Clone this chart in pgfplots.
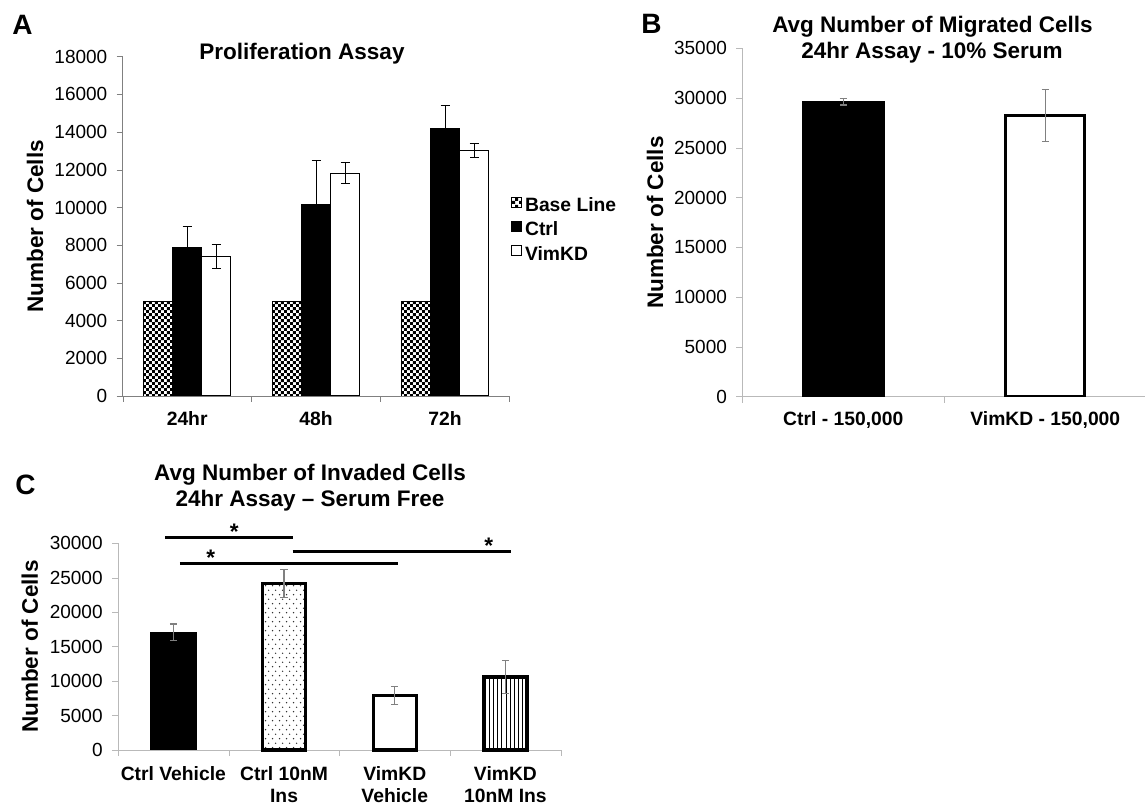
\documentclass[border=0pt]{standalone}
\usepackage{pgfplots}
\pgfplotsset{compat=1.18}
\usepackage{fontspec}
\setmainfont{Liberation Sans}
\usetikzlibrary{patterns}

\definecolor{axA}{RGB}{128,128,128}
\definecolor{axB}{RGB}{185,185,185}
\definecolor{errg}{RGB}{128,128,128}

\pgfdeclarepatternformonly{mychecker}{\pgfqpoint{0pt}{0pt}}{\pgfqpoint{3.2pt}{3.2pt}}{\pgfqpoint{3.2pt}{3.2pt}}{%
  \pgfpathrectangle{\pgfqpoint{0pt}{0pt}}{\pgfqpoint{1.6pt}{1.6pt}}%
  \pgfpathrectangle{\pgfqpoint{1.6pt}{1.6pt}}{\pgfqpoint{1.6pt}{1.6pt}}%
  \pgfusepath{fill}}
\pgfdeclarepatternformonly{mydots}{\pgfqpoint{0pt}{0pt}}{\pgfqpoint{3.3pt}{4.7pt}}{\pgfqpoint{3.3pt}{4.7pt}}{%
  \pgfpathcircle{\pgfqpoint{0.8pt}{1.2pt}}{0.4pt}%
  \pgfpathcircle{\pgfqpoint{2.45pt}{3.55pt}}{0.4pt}%
  \pgfusepath{fill}}
\pgfdeclarepatternformonly{myvlines}{\pgfqpoint{0pt}{-0.1pt}}{\pgfqpoint{2.1pt}{1.1pt}}{\pgfqpoint{2.1pt}{1pt}}{%
  \pgfsetlinewidth{0.5pt}%
  \pgfpathmoveto{\pgfqpoint{1pt}{-0.1pt}}\pgfpathlineto{\pgfqpoint{1pt}{1.1pt}}%
  \pgfusepath{stroke}}

\pgfplotsset{
  base/.style={
    scale only axis,
    axis x line*=bottom, axis y line*=left,
    tick align=outside,
    ymin=0,
    scaled y ticks=false,
    /pgf/number format/1000 sep={},
    /pgf/number format/assume math mode=true,
    yticklabel style={font=\fontsize{9.5}{11}\selectfont, anchor=east, inner sep=0pt, xshift=-4.5pt},
    xticklabel style={font=\bfseries\fontsize{9.65}{11.15}\selectfont, anchor=base, inner sep=0pt},
    major tick length=3pt,
    minor tick length=3pt,
    major x tick style={draw=none},
    ylabel style={font=\bfseries\fontsize{11.25}{13}\selectfont},
  },
  errbl/.style={error bars/.cd, y dir=both, y explicit,
    error bar style={black, line width=0.5pt},
    error mark options={rotate=90, mark size=2.25pt, black, line width=0.5pt}},
  errgr/.style={error bars/.cd, y dir=both, y explicit,
    error bar style={errg, line width=0.6pt},
    error mark options={rotate=90, mark size=1.8pt, errg, line width=0.6pt}},
  myleg/.style={legend image code/.code={\draw[##1, line width=0.4pt] (0pt,-0.3pt) rectangle (5pt,4.7pt);}},
}

\begin{document}
\begin{tikzpicture}
\path[use as bounding box] (0,0) rectangle (572.5pt,403pt);

% ---------------- Panel A ----------------
\begin{axis}[base, at={(61.35pt,205pt)}, anchor=south west,
  width=193.4pt, height=169.67pt,
  xmin=-0.5, xmax=2.5, ymax=18000, ytick={0,2000,...,18000},
  xtick={0,1,2}, xticklabels={24hr,48h,72h},
  minor xtick={-0.5,0.5,1.5,2.5},
  axis line style={axA}, tick style={axA},
  xticklabel style={yshift=-11.8pt},
  ybar=0pt, bar width=14.5pt,
  ylabel={Number of Cells},
  ylabel style={at={(axis description cs:-0.2267,0.5)}, anchor=center},
  legend style={at={(1.002,0.488)}, anchor=west, draw=none, fill=none,
    font=\bfseries\fontsize{9.65}{11}\selectfont, inner sep=0pt,
    row sep=2.75pt, column sep=1.8pt,
    nodes={inner sep=0pt, text height=7pt, text depth=2pt}},
  legend cell align=left,
]
\addplot[myleg, draw=black, line width=0.4pt, pattern=mychecker, pattern color=black]
  coordinates {(0,5000) (1,5000) (2,5000)};
\addplot[myleg, fill=black, draw=black, line width=0.5pt, errbl]
  coordinates {(0,7870) +- (0,1115) (1,10135) +- (0,2350) (2,14200) +- (0,1200)};
\addplot[myleg, fill=white, draw=black, line width=0.5pt, errbl]
  coordinates {(0,7390) +- (0,620) (1,11815) +- (0,565) (2,13000) +- (0,370)};
\legend{Base Line, Ctrl, VimKD}
\end{axis}

% ---------------- Panel B ----------------
\begin{axis}[base, at={(371.15pt,204.65pt)}, anchor=south west,
  width=202pt, height=174.2pt,
  xmin=-0.5, xmax=1.5, ymax=35000, ytick={0,5000,...,35000},
  xtick={0,1}, xticklabels={{Ctrl - 150,000},{VimKD - 150,000}},
  minor xtick={-0.5,0.5,1.5},
  axis line style={axB}, tick style={axB},
  xticklabel style={yshift=-11.5pt},
  ylabel={Number of Cells},
  ylabel style={at={(axis description cs:-0.216,0.5)}, anchor=center},
]
\addplot[ybar, bar width=41pt, bar shift=0pt, fill=black, draw=black, line width=0.5pt, errgr]
  coordinates {(0,29640) +- (0,340)};
\addplot[ybar, bar width=39.5pt, bar shift=0pt, fill=white, draw=black, line width=1.65pt, errgr]
  coordinates {(1,28230) +- (0,2590)};
\end{axis}

% ---------------- Panel C ----------------
\begin{axis}[base, at={(59pt,28pt)}, anchor=south west,
  width=221.4pt, height=103.35pt,
  xmin=-0.5, xmax=3.5, ymax=30000, ytick={0,5000,...,30000},
  xtick={0,1,2,3},
  xticklabels={{Ctrl Vehicle},{Ctrl 10nM\\Ins},{VimKD\\Vehicle},{VimKD\\10nM Ins}},
  minor xtick={-0.5,0.5,1.5,2.5,3.5},
  axis line style={axB}, tick style={axB},
  xticklabel style={align=center, anchor=north, yshift=-5pt},
  ylabel={Number of Cells},
  ylabel style={at={(axis description cs:-0.199,0.5)}, anchor=center},
  clip=false,
]
\addplot[ybar, bar width=23pt, bar shift=0pt, fill=black, draw=black, line width=0.5pt, errgr]
  coordinates {(0,17080) +- (0,1200)};
\addplot[ybar, bar width=21.5pt, bar shift=0pt, pattern=mydots, pattern color=black!80, draw=black, line width=1.65pt, errgr]
  coordinates {(1,24190) +- (0,2060)};
\addplot[ybar, bar width=21.5pt, bar shift=0pt, fill=white, draw=black, line width=1.65pt, errgr]
  coordinates {(2,7940) +- (0,1330)};
\addplot[ybar, bar width=21.5pt, bar shift=0pt, pattern=myvlines, pattern color=black, draw=black, line width=1.65pt, errgr]
  coordinates {(3,10600) +- (0,2370)};
\draw[line width=1.3pt] (axis cs:-0.075,30870) -- (axis cs:1.078,30870);
\draw[line width=1.3pt] (axis cs:0.06,27100) -- (axis cs:2.03,27100);
\draw[line width=1.3pt] (axis cs:1.078,28780) -- (axis cs:3.05,28780);
\node[anchor=base, inner sep=0pt, font=\bfseries\fontsize{11.25}{13}\selectfont] at (axis cs:0.55,30540) {*};
\node[anchor=base, inner sep=0pt, font=\bfseries\fontsize{11.25}{13}\selectfont] at (axis cs:0.337,26760) {*};
\node[anchor=base, inner sep=0pt, font=\bfseries\fontsize{11.25}{13}\selectfont] at (axis cs:2.85,28450) {*};
\end{axis}

% ---------------- Text ----------------
\begin{scope}[x=0.5pt, y=-0.5pt, shift={(0,403pt)}]
\node[anchor=base west, inner sep=0pt, font=\bfseries\fontsize{14}{16}\selectfont] at (12,35) {A};
\node[anchor=base west, inner sep=0pt, font=\bfseries\fontsize{14}{16}\selectfont] at (641,33.3) {B};
\node[anchor=base west, inner sep=0pt, font=\bfseries\fontsize{14}{16}\selectfont] at (15,495) {C};
\node[anchor=base, inner sep=0pt, font=\bfseries\fontsize{11.25}{13}\selectfont] at (302,60) {Proliferation Assay};
\node[anchor=base, inner sep=0pt, font=\bfseries\fontsize{11.25}{13}\selectfont] at (932.5,32.3) {Avg Number of Migrated Cells};
\node[anchor=base, inner sep=0pt, font=\bfseries\fontsize{11.25}{13}\selectfont] at (932,58.3) {24hr Assay - 10\% Serum};
\node[anchor=base, inner sep=0pt, font=\bfseries\fontsize{11.25}{13}\selectfont] at (310,480.7) {Avg Number of Invaded Cells};
\node[anchor=base, inner sep=0pt, font=\bfseries\fontsize{11.25}{13}\selectfont] at (310,506.7) {24hr Assay – Serum Free};
\end{scope}
\end{tikzpicture}
\end{document}
